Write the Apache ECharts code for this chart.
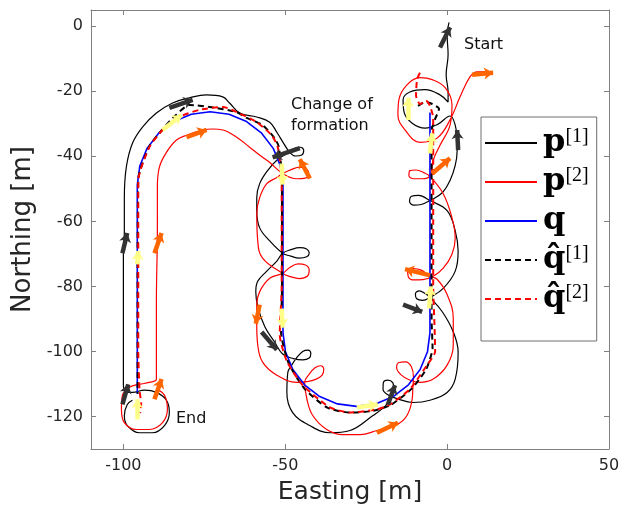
<!DOCTYPE html>
<html><head><meta charset="utf-8">
<script src="https://cdn.jsdelivr.net/npm/echarts@6/dist/echarts.min.js"></script>
<style>html,body{margin:0;padding:0;background:#fff}#c{width:629px;height:506px}</style>
</head><body><div id="c"></div>
<script>
// ---------- data (metres) ----------
const xTicks = [-100, -50, 0, 50];
const yTicks = [-120, -100, -80, -60, -40, -20, 0];

const p1 = [[0.6,1.2],[0,-2.5],[0.3,-8.7],[-0.3,-14.9],[0.3,-20.2],[0.3,-23.3],[-2.2,-21.1],[-6.8,-19.5],[-11.5,-20.2],[-13.6,-22.6],[-13.3,-26.4],[-10.8,-29.8],[-6.8,-31.3],[-2.8,-30.1],[0.9,-27.6],[2.5,-30.4],[3.1,-35.0],[3.1,-38.1],[2.5,-42.8],[0.9,-47.4],[-1.5,-51.2],[-5.3,-53.6],[-8.0,-54.8],[-10.3,-55.0],[-11.6,-53.9],[-11.0,-52.3],[-8.8,-52.0],[-5.3,-53.6],[0,-56.7],[2.5,-62.9],[3.4,-69.1],[2.5,-75.3],[-1.2,-80.6],[-5.3,-83.4],[-7.6,-84.3],[-9.4,-83.8],[-9.8,-82.3],[-8.6,-81.4],[-6.8,-82.2],[-5.3,-83.4],[-1.5,-87.8],[1.9,-94.0],[3.4,-100.2],[2.5,-108.5],[0,-112.6],[-5.3,-115.0],[-10.5,-115.7],[-15.5,-114.5],[-18.2,-113.4],[-19.8,-111.6],[-19.7,-109.6],[-18.3,-108.8],[-16.8,-109.6],[-16.4,-111.6],[-17.4,-114.5],[-19.2,-116.9],[-22.9,-119.7],[-30.0,-124.3],[-36.2,-125.0],[-42.4,-122.8],[-47.7,-118.8],[-49.5,-112.6],[-49.2,-106.4],[-48.2,-104.5],[-46.5,-102.0],[-44.6,-100.0],[-42.9,-99.6],[-42.1,-100.6],[-42.6,-102.0],[-44.6,-102.6],[-47.5,-102.2],[-50.8,-100.8],[-53.3,-97.1],[-56.3,-92.4],[-58.5,-86.2],[-59.1,-81.6],[-58.5,-78.4],[-55.7,-75.3],[-52.6,-72.2],[-50.8,-69.8],[-48.2,-68.7],[-45.5,-68.1],[-43.4,-68.5],[-42.6,-69.7],[-43.4,-70.9],[-45.7,-71.3],[-48.3,-70.7],[-50.8,-69.8],[-54.8,-66.0],[-57.9,-62.0],[-58.8,-56.7],[-58.8,-52.7],[-57.9,-48.4],[-55.4,-44.3],[-52.6,-41.2],[-49.5,-39.1],[-47.2,-37.6],[-45.3,-37.2],[-44.3,-38.2],[-44.9,-39.6],[-46.8,-39.9],[-48.6,-38.8],[-50.5,-36.0],[-52.6,-32.6],[-54.8,-29.5],[-58.8,-27.9],[-64.1,-26.7],[-67.2,-23.6],[-69.3,-21.7],[-74.3,-21.1],[-79.6,-22.0],[-84.8,-23.6],[-89.8,-26.7],[-94.1,-31.0],[-97.2,-36.0],[-99.1,-43.4],[-99.7,-52.7],[-99.7,-62.9],[-100.0,-69.1],[-100.0,-84.7],[-100.0,-100.2],[-100.0,-110.4],[-98.8,-112.6],[-97.2,-112.6],[-93.5,-111.9],[-89.8,-112.6],[-86.7,-115.0],[-85.8,-118.8],[-87.3,-122.8],[-91.0,-125.0],[-95.0,-125.0],[-98.8,-122.8],[-99.7,-119.7],[-98.8,-116.3],[-97.2,-115.0]];

const p2 = [[14.2,-14.0],[9.3,-14.0],[7.1,-15.5],[4.0,-21.7],[0.9,-28.8],[-3.1,-34.4],[-8.4,-35.7],[-13.0,-31.9],[-15.2,-27.3],[-14.9,-22.6],[-12.4,-18.0],[-8.4,-15.8],[-4.6,-16.4],[-0.6,-18.9],[1.5,-24.2],[0.9,-30.4],[-2.2,-36.6],[-4.3,-41.2],[-5.3,-46.0],[-7.8,-46.9],[-10.3,-46.9],[-11.8,-45.9],[-11.5,-44.4],[-9.6,-44.2],[-7.2,-45.0],[-5.3,-46.2],[-1.2,-51.5],[1.5,-58.9],[2.5,-65.1],[1.5,-70.1],[-1.2,-74.4],[-4.3,-76.9],[-7.5,-77.9],[-10.2,-78.0],[-12.0,-77.0],[-12.2,-75.3],[-10.6,-74.5],[-8.0,-75.0],[-5.3,-76.9],[-3.1,-77.8],[0,-82.5],[1.9,-89.9],[1.9,-98.0],[0,-104.2],[-4.3,-108.5],[-8.4,-109.5],[-11.6,-108.8],[-14.2,-107.2],[-15.6,-105.0],[-14.9,-103.4],[-12.8,-103.2],[-11.0,-104.8],[-10.4,-108.0],[-10.6,-111.5],[-10.8,-114.7],[-12.4,-119.7],[-15.5,-122.5],[-21.7,-124.3],[-26.9,-125.6],[-32.2,-125.6],[-37.2,-124.0],[-41.5,-119.7],[-43.3,-114.7],[-44.0,-109.5],[-42.6,-107.0],[-40.8,-105.0],[-39.0,-104.4],[-38.1,-105.5],[-38.6,-107.3],[-40.6,-108.6],[-43.5,-109.3],[-46.4,-109.5],[-52.6,-107.3],[-57.0,-103.3],[-58.5,-98.0],[-58.8,-91.8],[-58.8,-85.6],[-57.9,-81.6],[-54.8,-77.5],[-50.8,-76.0],[-48.6,-74.2],[-46.0,-73.1],[-43.8,-73.4],[-42.6,-75.0],[-43.2,-76.9],[-45.6,-77.6],[-48.4,-77.0],[-50.8,-76.0],[-57.0,-71.3],[-58.5,-66.0],[-58.8,-57.7],[-57.9,-52.7],[-55.7,-48.4],[-52.6,-46.5],[-50.8,-45.3],[-48.0,-44.0],[-45.5,-43.3],[-43.5,-43.8],[-42.8,-45.3],[-43.8,-46.7],[-46.4,-46.9],[-50.8,-45.3],[-54.8,-41.9],[-57.0,-40.3],[-61.0,-37.2],[-65.0,-34.1],[-69.3,-31.9],[-72.4,-31.6],[-75.5,-31.9],[-80.5,-33.5],[-83.6,-35.0],[-86.7,-38.8],[-88.9,-43.4],[-89.5,-49.6],[-89.5,-57.7],[-89.5,-62.9],[-89.8,-84.7],[-89.8,-108.5],[-92.0,-109.5],[-95.0,-110.1],[-98.1,-111.0],[-100.3,-113.5],[-100.6,-117.8],[-99.7,-121.9],[-96.0,-124.0],[-92.0,-124.0],[-87.9,-121.9],[-86.4,-117.8],[-87.3,-113.5],[-89.8,-111.6]];

const q = [[-5.3,-26.5],[-5.3,-60],[-5.3,-94.2],[-6.07,-100.08],[-8.34,-105.55],[-11.95,-110.25],[-16.65,-113.86],[-22.12,-116.13],[-28,-116.9],[-33.88,-116.13],[-39.35,-113.86],[-44.05,-110.25],[-47.66,-105.55],[-49.93,-100.08],[-50.7,-94.2],[-50.7,-70],[-50.7,-48.8],[-51.47,-42.98],[-53.71,-37.55],[-57.29,-32.89],[-61.95,-29.31],[-67.38,-27.07],[-73.2,-26.3],[-79.02,-27.07],[-84.45,-29.31],[-89.11,-32.89],[-92.69,-37.55],[-94.93,-42.98],[-95.7,-48.8],[-95.7,-80],[-95.7,-113]];

const qHat1 = [[-9.0,-24.5],[-6.8,-23.3],[-4.6,-23.9],[-2.5,-25.4],[-3.7,-28.5],[-4.8,-32],[-4.8,-60],[-4.8,-90],[-4.5,-99],[-6.5,-105.5],[-11.0,-111.5],[-17.5,-116.5],[-23,-118.3],[-30,-118.8],[-37,-117.3],[-44,-111.5],[-49,-103.5],[-51.3,-94],[-51.0,-80],[-51.0,-60],[-51.0,-47],[-52.0,-37],[-53.3,-34.4],[-57,-30.4],[-61.9,-28.2],[-65,-26.4],[-73.4,-24.8],[-79.6,-24.2],[-84,-27.5],[-88,-31.8],[-92,-37],[-95.4,-47],[-95.6,-80],[-95.6,-113]];

const qHat2 = [[-8.4,-14.3],[-9.3,-16.4],[-9.6,-21.4],[-8.4,-23.9],[-6.5,-22.9],[-5.3,-24.5],[-4.3,-28.2],[-4.3,-40],[-4.3,-60],[-4.3,-80],[-3.9,-92],[-3.7,-100],[-6.2,-104.2],[-11.5,-111.6],[-17.6,-116.3],[-21.7,-117.8],[-30.0,-118.8],[-36.2,-117.2],[-44.6,-110.4],[-49.5,-103],[-51.7,-94.9],[-51.1,-80],[-51.1,-60],[-51.1,-47.4],[-52.3,-37.2],[-54.2,-33.5],[-58.8,-29.5],[-65.0,-26.4],[-69.3,-24.8],[-76.5,-25.7],[-82.7,-27.9],[-87.9,-31.9],[-92.0,-37.2],[-95.4,-47.4],[-95.4,-70],[-95.4,-100],[-95.0,-112],[-94.5,-116],[-94.8,-119]];

// heading markers: [x tail, y tail, x head, y head]
const arrowsP1 = [[-2.2,-6.5,0.9,-0.3],[3.4,-38.1,3.1,-31.9],[-13.6,-85.6,-7.7,-87.8],[-18.3,-116.3,-16.1,-110.4],[-57.3,-94.0,-52.6,-99.5],[-45.5,-37.5,-53.9,-40.3],[-85.8,-25.1,-78.6,-22.6],[-100.3,-69.8,-98.8,-63.6],[-100.3,-116.3,-98.5,-110.1]];
const arrowsP2 = [[7.7,-14.9,14.2,-14.3],[-4.6,-45.3,0.9,-40.6],[-5.3,-76.6,-13.0,-74.7],[-21.7,-125.0,-15.2,-121.9],[-57.9,-85.6,-59.1,-91.5],[-42.4,-46.8,-45.5,-40.9],[-80.5,-34.1,-74.3,-31.9],[-90.4,-69.8,-88.2,-63.6],[-90.4,-114.7,-88.2,-108.5]];
const arrowsQ = [[-12.1,-28.8,-12.1,-22.0],[-5.3,-39.1,-4.6,-32.9],[-5.6,-86.8,-5.0,-80.0],[-27.9,-117.2,-21.4,-116.3],[-51.1,-86.8,-50.8,-92.7],[-51.1,-42.2,-50.8,-48.7],[-87.9,-31.9,-82.0,-27.3],[-95.7,-73.2,-95.4,-69.1],[-95.7,-120.9,-95.7,-114.7]];

const legendLabels = {
  p1: '{m|p}{s|[1]}',
  p2: '{m|p}{s|[2]}',
  q: '{m|q}',
  qh1: '{m|q\u0302}{s|[1]}',
  qh2: '{m|q\u0302}{s|[2]}'
};

// ---------- chart ----------
const chart = echarts.init(document.getElementById('c'), null, {renderer: 'canvas'});
const axisColor = '#808080';
const labelColor = '#262626';
const font = 'DejaVu Sans';

function arrowSeries(arr, color) {
  return {
    type: 'lines', coordinateSystem: 'cartesian2d', z: 5,
    symbol: ['none', 'arrow'], symbolSize: [0, 9],
    lineStyle: {color: color, width: 4.5, opacity: 1, curveness: 0},
    silent: true,
    data: arr.map(a => ({coords: [[a[0], a[1]], [a[2], a[3]]]}))
  };
}
function lineSeries(name, data, color, width, dash, z, smooth) {
  return {
    name: name, type: 'line', data: data, showSymbol: false, symbol: 'none',
    smooth: smooth, z: z, silent: true, animation: false,
    lineStyle: {color: color, width: width, type: dash ? [6, 4] : 'solid'},
    itemStyle: {color: color}
  };
}

const xBase = {type: 'value', min: -110, max: 50, splitLine: {show: false},
  axisLine: {show: true, onZero: false, lineStyle: {color: axisColor, width: 1}}};
const yBase = {type: 'value', min: -130, max: 5, splitLine: {show: false},
  axisLine: {show: true, onZero: false, lineStyle: {color: axisColor, width: 1}}};

chart.setOption({
  animation: false,
  backgroundColor: '#fff',
  grid: {left: 91, right: 20, top: 10, bottom: 57, containLabel: false, outerBoundsMode: 'none'},
  xAxis: [
    Object.assign({}, xBase, {position: 'bottom', name: 'Easting [m]', nameLocation: 'middle', nameGap: 31,
      nameTextStyle: {fontFamily: font, fontSize: 25, color: labelColor},
      axisTick: {inside: true, length: 5, customValues: xTicks, lineStyle: {color: axisColor}},
      axisLabel: {customValues: xTicks, fontFamily: font, fontSize: 16, color: labelColor, margin: 9}}),
    Object.assign({}, xBase, {position: 'top',
      axisTick: {inside: true, length: 5, customValues: xTicks, lineStyle: {color: axisColor}},
      axisLabel: {show: false}})
  ],
  yAxis: [
    Object.assign({}, yBase, {position: 'left', name: 'Northing [m]', nameLocation: 'middle', nameGap: 40,
      nameRotate: 90,
      nameTextStyle: {fontFamily: font, fontSize: 26, color: labelColor},
      axisTick: {inside: true, length: 5, customValues: yTicks, lineStyle: {color: axisColor}},
      axisLabel: {customValues: yTicks, fontFamily: font, fontSize: 16, color: labelColor, margin: 8}}),
    Object.assign({}, yBase, {position: 'right',
      axisTick: {inside: true, length: 5, customValues: yTicks, lineStyle: {color: axisColor}},
      axisLabel: {show: false}})
  ],
  legend: {
    orient: 'vertical', left: 481, top: 117,
    data: ['p1', 'p2', 'q', 'qh1', 'qh2'],
    itemWidth: 52, itemHeight: 2, itemGap: 7,
    padding: [10, 8, 26, 3],
    itemStyle: {opacity: 0},
    backgroundColor: '#fff', borderColor: '#6e6e6e', borderWidth: 1, borderRadius: 0,
    selectedMode: false,
    formatter: n => legendLabels[n],
    textStyle: {
      padding: [0, 0, 0, 1],
      rich: {
        m: {fontFamily: 'DejaVu Serif', fontWeight: 'bold', fontSize: 32, color: '#000', lineHeight: 32},
        s: {fontFamily: 'Liberation Serif', fontSize: 20, color: '#000', verticalAlign: 'top', lineHeight: 20, padding: [0, 0, 12, 0]}
      }
    }
  },
  graphic: [
    {type: 'text', left: 464, top: 37, style: {text: 'Start', font: '16px "DejaVu Sans"', fill: '#111'}},
    {type: 'text', left: 176, top: 411, style: {text: 'End', font: '16px "DejaVu Sans"', fill: '#111'}},
    {type: 'text', left: 291, top: 94, style: {text: 'Change of\nformation', font: '16px "DejaVu Sans"', fill: '#111', align: 'center', lineHeight: 21, x: 42}}
  ],
  series: [
    lineSeries('p1', p1, '#000000', 1.2, false, 2, 0.4),
    lineSeries('p2', p2, '#ff0000', 1.2, false, 2, 0.4),
    lineSeries('q', q, '#0000ff', 1.6, false, 3, false),
    lineSeries('qh1', qHat1, '#000000', 2, true, 3, 0.2),
    lineSeries('qh2', qHat2, '#ff0000', 2, true, 4, 0.2),
    arrowSeries(arrowsP1, '#333333'),
    arrowSeries(arrowsP2, '#ff6600'),
    arrowSeries(arrowsQ, '#ffff88')
  ]
});
</script></body></html>
